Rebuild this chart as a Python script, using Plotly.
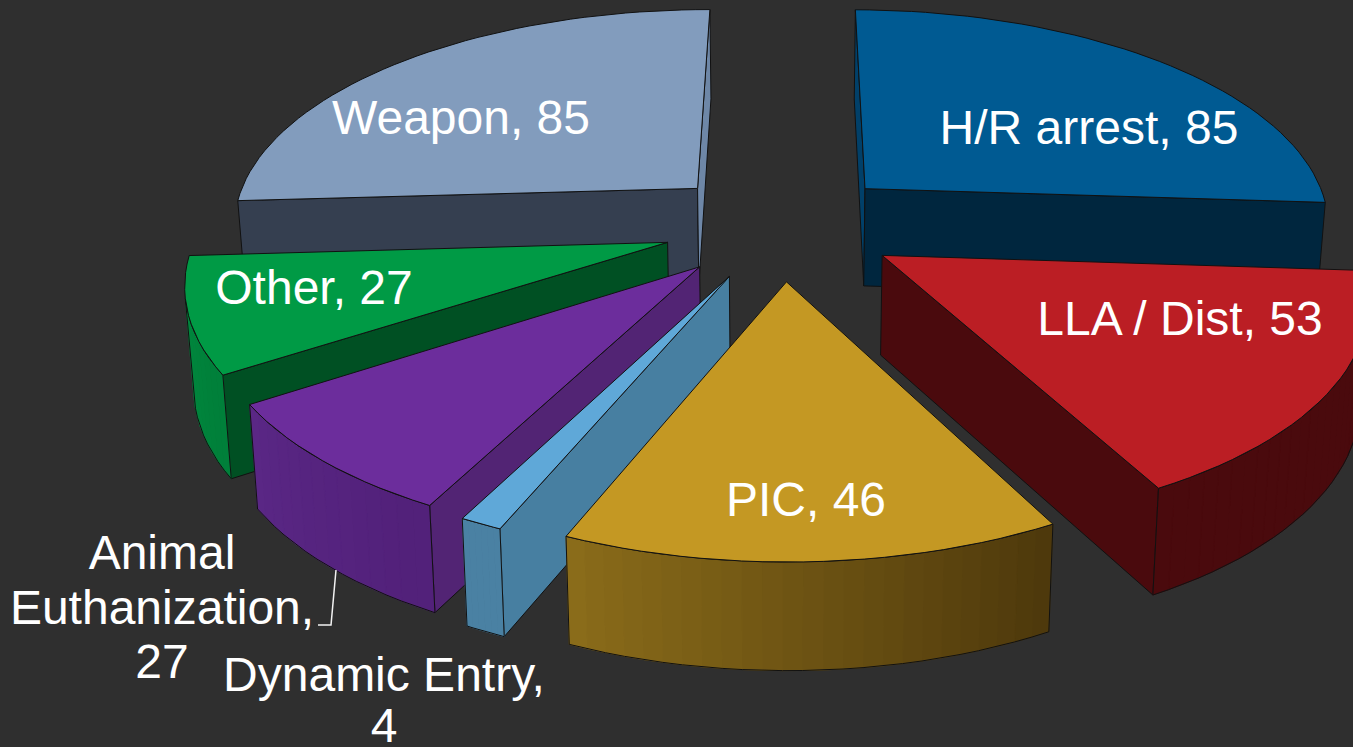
import numpy as np
import plotly.graph_objects as go

# ---- data (clockwise from the back of the pie)
categories = ["H/R arrest", "LLA / Dist", "PIC", "Dynamic Entry", "Animal Euthanization", "Other", "Weapon"]
values = [85, 53, 46, 4, 27, 27, 85]
label_lines = [
    ["H/R arrest, 85"], ["LLA / Dist, 53"], ["PIC, 46"], ["Dynamic Entry,", "4"],
    ["Animal", "Euthanization,", "27"], ["Other, 27"], ["Weapon, 85"],
]
label_x = [1089, 1180, 806, 384, 162, 314, 461]
label_y = [132, 323, 504, 679, 557, 292, 122]
label_step = [54.5, 54.5, 54.5, 51, 54.5, 54.5, 54.5]

top_colors = ["#005A92", "#BB1E24", "#C49823", "#5FA8D8", "#6C2D9C", "#009A45", "#829CBD"]
wall_colors = ["#00263E", "#4A0A0D", "#5A4410", "#477FA1", "#522474", "#005023", "#353F50"]
start_wall_colors = ["#014069", "#4A0A0D", "#5A4410", "#477FA1", "#522474", "#005023", "#353F50"]
end_wall_colors = ["#00263E", "#4A0A0D", "#5A4410", "#477FA1", "#522474", "#005023", "#6E87A7"]
outer_from = ["#00263E", "#4A0A0D", "#4E390C", "#4A81A3", "#52217A", "#00803A", "#353F50"]
outer_to = ["#00263E", "#4A0A0D", "#8A6C1A", "#4A81A3", "#5A2785", "#008C40", "#353F50"]
draw_order = [0, 6, 5, 1, 4, 3, 2]

BG = "#2F2F2F"
EDGE = "#111111"
leader_x = [336, 331, 318]
leader_y = [570, 625, 625]

# ---- projection parameters
CX, Y0, R, T, P = 781.0, 225.0, 468.0, 217.0, 0.155
EXPLODE = 0.252
START = 0.2
BOTTOM_SCALE = 0.985
D0, D1 = 98.6, 8.0


def project(X, Y, bottom=False):
    w = 1.0 / (1.0 - P * Y)
    sx = CX + R * X * w
    sy = Y0 + T * Y * w
    if bottom:
        sx = CX + (sx - CX) * BOTTOM_SCALE
        sy = sy + D0 + D1 * Y
    return sx, sy


def hex2rgb(h):
    return np.array([int(h[i:i + 2], 16) for i in (1, 3, 5)], float)


def mix(a, b, t):
    c = hex2rgb(a) * (1 - t) + hex2rgb(b) * t
    return "rgb(%d,%d,%d)" % tuple(c)


fig = go.Figure()


def poly(xs, ys, fill, line=None, width=1.0):
    xs = list(xs) + [xs[0]]
    ys = list(ys) + [ys[0]]
    fig.add_trace(go.Scatter(x=xs, y=ys, mode="lines", fill="toself", fillcolor=fill,
                             line=dict(color=line or fill, width=width),
                             hoverinfo="skip", showlegend=False))


def shoelace(pts):
    s = 0.0
    for i in range(len(pts)):
        x1, y1 = pts[i]
        x2, y2 = pts[(i + 1) % len(pts)]
        s += x1 * y2 - x2 * y1
    return s


total = sum(values)
sweeps = [v / total * 360.0 for v in values]
starts = START + np.concatenate([[0], np.cumsum(sweeps)[:-1]])

for idx in draw_order:
    a0, sw = starts[idx], sweeps[idx]
    mid = np.radians(a0 + sw / 2)
    ax, ay = EXPLODE * np.sin(mid), -EXPLODE * np.cos(mid)
    n = max(6, int(sw / 2))
    th = np.radians(np.linspace(a0, a0 + sw, n + 1))
    px = ax + np.sin(th)
    py = ay - np.cos(th)
    PX = np.concatenate([[ax], px])
    PY = np.concatenate([[ay], py])
    tx, ty = project(PX, PY)
    bx, by = project(PX, PY, bottom=True)

    def quad(i, j):
        return [(tx[i], ty[i]), (tx[j], ty[j]), (bx[j], by[j]), (bx[i], by[i])]

    # radial wall at the start of the slice
    q = quad(0, 1)
    if shoelace(q) < 0:
        poly(*zip(*q), start_wall_colors[idx], EDGE)
    # radial wall at the end of the slice
    q = quad(n + 1, 0)
    if shoelace(q) < 0:
        poly(*zip(*q), end_wall_colors[idx], EDGE)
    # curved outer wall, shaded step by step
    vis = []
    for k in range(1, n + 1):
        q = quad(k, k + 1)
        if shoelace(q) < 0:
            poly(*zip(*q), mix(outer_from[idx], outer_to[idx], (k - 1) / max(n - 1, 1)))
            vis.append(k)
    if vis:
        i0, i1 = vis[0], vis[-1] + 1
        ox = list(tx[i0:i1 + 1]) + list(bx[i0:i1 + 1][::-1]) + [tx[i0]]
        oy = list(ty[i0:i1 + 1]) + list(by[i0:i1 + 1][::-1]) + [ty[i0]]
        fig.add_trace(go.Scatter(x=ox, y=oy, mode="lines", line=dict(color=EDGE, width=1),
                                 hoverinfo="skip", showlegend=False))
    # top face
    poly(list(tx), list(ty), top_colors[idx], EDGE)

fig.add_trace(go.Scatter(x=leader_x, y=leader_y, mode="lines",
                         line=dict(color="#F2F2F2", width=1.5), hoverinfo="skip", showlegend=False))

for lines, x, y, step in zip(label_lines, label_x, label_y, label_step):
    for j, t in enumerate(lines):
        fig.add_trace(go.Scatter(x=[x], y=[y + j * step], mode="text", text=[t],
                                 textposition="middle center", cliponaxis=False,
                                 textfont=dict(family="Liberation Sans", size=48, color="#FFFFFF"),
                                 hoverinfo="skip", showlegend=False))

fig.update_layout(width=1353, height=747, margin=dict(l=0, r=0, t=0, b=0),
                  paper_bgcolor=BG, plot_bgcolor=BG, showlegend=False,
                  xaxis=dict(range=[0, 1353], visible=False, fixedrange=True),
                  yaxis=dict(range=[747, 0], visible=False, fixedrange=True))
fig.write_html("out.html", config=dict(displayModeBar=False),
               post_script="document.body.style.margin='0';document.body.style.overflow='hidden';document.body.style.background='%s';" % BG)
